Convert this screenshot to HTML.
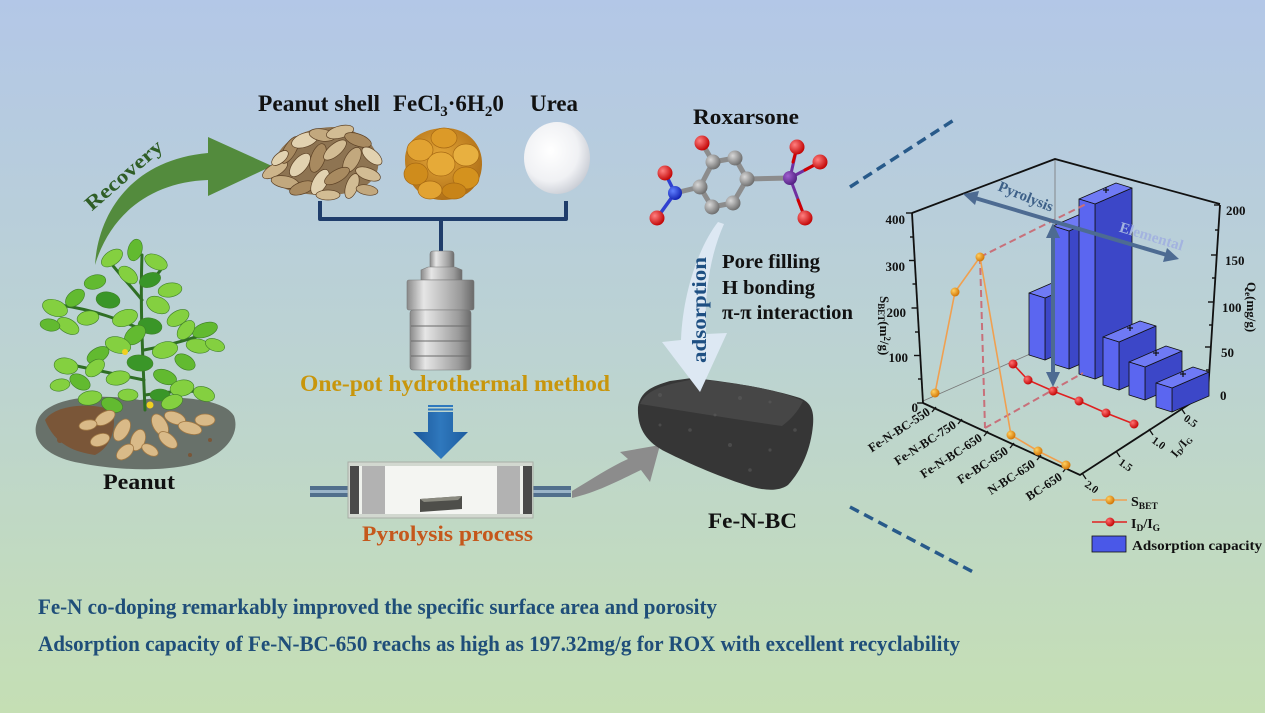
<!DOCTYPE html>
<html><head><meta charset="utf-8"><style>
html,body{margin:0;padding:0;width:1265px;height:713px;overflow:hidden;background:#bcd3d2;}
svg{display:block;}
text{font-family:"Liberation Serif","DejaVu Serif",serif;font-weight:bold;}
</style></head><body>
<svg width="1265" height="713" viewBox="0 0 1265 713" xmlns="http://www.w3.org/2000/svg">
<defs>
<linearGradient id="bg" x1="0" y1="0" x2="0" y2="1">
<stop offset="0" stop-color="#b3c7e7"/>
<stop offset="0.5" stop-color="#bcd3d2"/>
<stop offset="1" stop-color="#c5dfb4"/>
</linearGradient>
<linearGradient id="metal" x1="0" y1="0" x2="1" y2="0">
<stop offset="0" stop-color="#8a8a8a"/>
<stop offset="0.25" stop-color="#e6e6e6"/>
<stop offset="0.5" stop-color="#c4c4c4"/>
<stop offset="0.8" stop-color="#9a9a9a"/>
<stop offset="1" stop-color="#6a6a6a"/>
</linearGradient>
<linearGradient id="blueArr" x1="0" y1="0" x2="1" y2="0">
<stop offset="0" stop-color="#1b5699"/>
<stop offset="0.5" stop-color="#2f78bd"/>
<stop offset="1" stop-color="#1d5c9f"/>
</linearGradient>
<radialGradient id="gC" cx="0.35" cy="0.35" r="0.7"><stop offset="0" stop-color="#d8d8d8"/><stop offset="1" stop-color="#6a6a6a"/></radialGradient>
<radialGradient id="gO" cx="0.35" cy="0.35" r="0.7"><stop offset="0" stop-color="#ff8080"/><stop offset="1" stop-color="#c00000"/></radialGradient>
<radialGradient id="gN" cx="0.35" cy="0.35" r="0.7"><stop offset="0" stop-color="#6080ff"/><stop offset="1" stop-color="#1020b0"/></radialGradient>
<radialGradient id="gAs" cx="0.35" cy="0.35" r="0.7"><stop offset="0" stop-color="#a060d0"/><stop offset="1" stop-color="#502080"/></radialGradient>
<radialGradient id="gOr" cx="0.35" cy="0.35" r="0.7"><stop offset="0" stop-color="#ffd060"/><stop offset="1" stop-color="#d07000"/></radialGradient>
<radialGradient id="gRd" cx="0.35" cy="0.35" r="0.7"><stop offset="0" stop-color="#ff7070"/><stop offset="1" stop-color="#c00000"/></radialGradient>
<radialGradient id="gUrea" cx="0.4" cy="0.4" r="0.65"><stop offset="0" stop-color="#ffffff"/><stop offset="0.65" stop-color="#f0f1f4"/><stop offset="1" stop-color="#c8ccd4"/></radialGradient>
<radialGradient id="gFe" cx="0.45" cy="0.4" r="0.6"><stop offset="0" stop-color="#e6a838"/><stop offset="1" stop-color="#b07018"/></radialGradient>
</defs>

<rect x="0" y="0" width="1265" height="713" fill="url(#bg)"/>

<!-- ===== Recovery arrow ===== -->
<path d="M95,265 C98,215 130,160 208,153 L208,137 L272,166 L208,196 L208,180 C150,182 110,215 95,265 Z" fill="#538b3d"/>
<text transform="translate(128,180) rotate(-41)" font-size="20" fill="#2f5e26" text-anchor="middle" textLength="96" lengthAdjust="spacingAndGlyphs">Recovery</text>

<!-- ===== Plant ===== -->
<path d="M37,422 C45,396 100,393 140,400 C180,394 226,400 234,416 C241,436 222,455 200,462 C170,472 120,471 80,463 C50,458 30,442 37,422 Z" fill="#68716a"/>
<path d="M45,420 C55,405 90,402 112,410 C118,428 110,448 95,455 C75,452 55,445 45,420 Z" fill="#7a5638"/>
<g fill="#7a5638"><circle cx="60" cy="440" r="3"/><circle cx="75" cy="447" r="2.5"/><circle cx="210" cy="440" r="2"/><circle cx="190" cy="455" r="2"/></g>
<g stroke="#2f6f24" stroke-width="3" fill="none" stroke-linecap="round">
<path d="M145,410 C143,360 140,310 142,255"/>
<path d="M143,330 C120,320 95,310 60,305"/>
<path d="M144,350 C170,345 195,338 215,330"/>
<path d="M144,380 C120,375 95,370 72,365"/>
<path d="M145,395 C165,392 185,390 205,392"/>
<path d="M142,300 C130,285 120,275 110,262"/>
<path d="M143,285 C150,280 160,275 165,262"/>
</g>
<g stroke="#3f7f28" stroke-width="0.6">
<ellipse cx="112" cy="258" rx="12" ry="7" transform="rotate(-35 112 258)" fill="#84d040"/>
<ellipse cx="135" cy="250" rx="11" ry="7" transform="rotate(-75 135 250)" fill="#62ba30"/>
<ellipse cx="156" cy="262" rx="12" ry="7" transform="rotate(25 156 262)" fill="#84d040"/>
<ellipse cx="128" cy="275" rx="11" ry="7" transform="rotate(40 128 275)" fill="#84d040"/>
<ellipse cx="150" cy="280" rx="11" ry="7" transform="rotate(-20 150 280)" fill="#3a9628"/>
<ellipse cx="95" cy="282" rx="11" ry="7" transform="rotate(-15 95 282)" fill="#62ba30"/>
<ellipse cx="170" cy="290" rx="12" ry="7" transform="rotate(-10 170 290)" fill="#84d040"/>
<ellipse cx="55" cy="308" rx="13" ry="8" transform="rotate(20 55 308)" fill="#84d040"/>
<ellipse cx="75" cy="298" rx="11" ry="7" transform="rotate(-40 75 298)" fill="#62ba30"/>
<ellipse cx="68" cy="326" rx="12" ry="7" transform="rotate(30 68 326)" fill="#84d040"/>
<ellipse cx="88" cy="318" rx="11" ry="7" transform="rotate(-10 88 318)" fill="#84d040"/>
<ellipse cx="50" cy="325" rx="10" ry="6" transform="rotate(10 50 325)" fill="#62ba30"/>
<ellipse cx="108" cy="300" rx="12" ry="8" transform="rotate(10 108 300)" fill="#3a9628"/>
<ellipse cx="125" cy="318" rx="13" ry="8" transform="rotate(-20 125 318)" fill="#84d040"/>
<ellipse cx="158" cy="305" rx="12" ry="8" transform="rotate(25 158 305)" fill="#84d040"/>
<ellipse cx="178" cy="318" rx="12" ry="7" transform="rotate(-30 178 318)" fill="#84d040"/>
<ellipse cx="150" cy="326" rx="12" ry="8" transform="rotate(10 150 326)" fill="#3a9628"/>
<ellipse cx="135" cy="335" rx="12" ry="8" transform="rotate(-40 135 335)" fill="#62ba30"/>
<ellipse cx="205" cy="330" rx="13" ry="7" transform="rotate(-20 205 330)" fill="#62ba30"/>
<ellipse cx="198" cy="346" rx="12" ry="7" transform="rotate(10 198 346)" fill="#84d040"/>
<ellipse cx="186" cy="330" rx="11" ry="7" transform="rotate(-50 186 330)" fill="#84d040"/>
<ellipse cx="215" cy="345" rx="10" ry="6" transform="rotate(20 215 345)" fill="#84d040"/>
<ellipse cx="118" cy="345" rx="13" ry="8" transform="rotate(15 118 345)" fill="#84d040"/>
<ellipse cx="165" cy="350" rx="13" ry="8" transform="rotate(-15 165 350)" fill="#84d040"/>
<ellipse cx="98" cy="355" rx="12" ry="7" transform="rotate(-30 98 355)" fill="#62ba30"/>
<ellipse cx="140" cy="363" rx="13" ry="8" transform="rotate(5 140 363)" fill="#3a9628"/>
<ellipse cx="185" cy="362" rx="11" ry="7" transform="rotate(30 185 362)" fill="#62ba30"/>
<ellipse cx="66" cy="366" rx="12" ry="8" transform="rotate(10 66 366)" fill="#84d040"/>
<ellipse cx="80" cy="382" rx="11" ry="7" transform="rotate(30 80 382)" fill="#62ba30"/>
<ellipse cx="95" cy="368" rx="11" ry="7" transform="rotate(-40 95 368)" fill="#84d040"/>
<ellipse cx="118" cy="378" rx="12" ry="7" transform="rotate(-10 118 378)" fill="#84d040"/>
<ellipse cx="60" cy="385" rx="10" ry="6" transform="rotate(-10 60 385)" fill="#84d040"/>
<ellipse cx="165" cy="377" rx="12" ry="7" transform="rotate(20 165 377)" fill="#62ba30"/>
<ellipse cx="182" cy="388" rx="12" ry="8" transform="rotate(-10 182 388)" fill="#84d040"/>
<ellipse cx="204" cy="394" rx="11" ry="7" transform="rotate(20 204 394)" fill="#84d040"/>
<ellipse cx="160" cy="395" rx="10" ry="6" fill="#3a9628"/>
<ellipse cx="90" cy="398" rx="12" ry="7" transform="rotate(-10 90 398)" fill="#84d040"/>
<ellipse cx="112" cy="405" rx="11" ry="7" transform="rotate(20 112 405)" fill="#62ba30"/>
<ellipse cx="172" cy="402" rx="11" ry="7" transform="rotate(-20 172 402)" fill="#84d040"/>
<ellipse cx="128" cy="395" rx="10" ry="6" fill="#84d040"/>
</g>
<circle cx="125" cy="352" r="3" fill="#f0d020"/>
<circle cx="150" cy="405" r="3.5" fill="#f0d020"/>
<g fill="#d9ba88" stroke="#a07844" stroke-width="0.8">
<ellipse cx="105" cy="418" rx="11" ry="6" transform="rotate(-30 105 418)"/>
<ellipse cx="122" cy="430" rx="12" ry="7" transform="rotate(-60 122 430)"/>
<ellipse cx="100" cy="440" rx="10" ry="6" transform="rotate(-20 100 440)"/>
<ellipse cx="138" cy="440" rx="11" ry="7" transform="rotate(-70 138 440)"/>
<ellipse cx="160" cy="425" rx="12" ry="7" transform="rotate(60 160 425)"/>
<ellipse cx="175" cy="418" rx="11" ry="6" transform="rotate(20 175 418)"/>
<ellipse cx="190" cy="428" rx="12" ry="6" transform="rotate(15 190 428)"/>
<ellipse cx="205" cy="420" rx="10" ry="6"/>
<ellipse cx="168" cy="440" rx="11" ry="6" transform="rotate(40 168 440)"/>
<ellipse cx="125" cy="452" rx="10" ry="6" transform="rotate(-40 125 452)"/>
<ellipse cx="150" cy="450" rx="9" ry="5" transform="rotate(30 150 450)"/>
<ellipse cx="88" cy="425" rx="9" ry="5" transform="rotate(-10 88 425)"/>
</g>
<text x="103" y="489" font-size="22" fill="#111" textLength="72" lengthAdjust="spacingAndGlyphs">Peanut</text>

<!-- ===== Raw materials ===== -->
<text x="258" y="111" font-size="23" fill="#111" textLength="122" lengthAdjust="spacingAndGlyphs">Peanut shell</text>
<text x="393" y="111" font-size="23" fill="#111">FeCl<tspan font-size="15" dy="5">3</tspan><tspan dy="-5">·6H</tspan><tspan font-size="15" dy="5">2</tspan><tspan dy="-5">0</tspan></text>
<text x="530" y="111" font-size="23" fill="#111" textLength="48" lengthAdjust="spacingAndGlyphs">Urea</text>

<!-- peanut shells -->
<path d="M272,168 C278,142 302,128 332,127 C360,128 380,145 378,168 C374,188 350,196 320,195 C290,194 268,186 272,168 Z" fill="#8e7452"/>
<g stroke="#5d4226" stroke-width="0.7">
<ellipse cx="275" cy="170" rx="14" ry="6" transform="rotate(-30 275 170)" fill="#cdb48a"/>
<ellipse cx="290" cy="150" rx="15" ry="6" transform="rotate(-60 290 150)" fill="#a88a60"/>
<ellipse cx="305" cy="140" rx="14" ry="7" transform="rotate(-20 305 140)" fill="#e2d2b0"/>
<ellipse cx="322" cy="135" rx="13" ry="6" transform="rotate(10 322 135)" fill="#c2a87e"/>
<ellipse cx="340" cy="132" rx="14" ry="6" transform="rotate(-15 340 132)" fill="#d2bc94"/>
<ellipse cx="358" cy="140" rx="14" ry="6" transform="rotate(20 358 140)" fill="#a88a60"/>
<ellipse cx="372" cy="156" rx="12" ry="6" transform="rotate(40 372 156)" fill="#e2d2b0"/>
<ellipse cx="285" cy="182" rx="14" ry="6" transform="rotate(10 285 182)" fill="#c2a87e"/>
<ellipse cx="300" cy="165" rx="14" ry="7" transform="rotate(-50 300 165)" fill="#e2d2b0"/>
<ellipse cx="318" cy="158" rx="15" ry="7" transform="rotate(-70 318 158)" fill="#a88a60"/>
<ellipse cx="335" cy="150" rx="14" ry="6" transform="rotate(-40 335 150)" fill="#d2bc94"/>
<ellipse cx="352" cy="160" rx="14" ry="7" transform="rotate(-60 352 160)" fill="#c2a87e"/>
<ellipse cx="368" cy="174" rx="13" ry="6" transform="rotate(20 368 174)" fill="#d2bc94"/>
<ellipse cx="302" cy="188" rx="13" ry="6" transform="rotate(-20 302 188)" fill="#a88a60"/>
<ellipse cx="320" cy="182" rx="14" ry="7" transform="rotate(-60 320 182)" fill="#e2d2b0"/>
<ellipse cx="337" cy="176" rx="14" ry="6" transform="rotate(-30 337 176)" fill="#a88a60"/>
<ellipse cx="352" cy="186" rx="13" ry="6" transform="rotate(-70 352 186)" fill="#d2bc94"/>
<ellipse cx="367" cy="190" rx="11" ry="5" transform="rotate(10 367 190)" fill="#c2a87e"/>
<ellipse cx="328" cy="195" rx="12" ry="5" fill="#d2bc94"/>
<ellipse cx="280" cy="158" rx="10" ry="5" transform="rotate(-40 280 158)" fill="#e2d2b0"/>
</g>

<!-- FeCl3 -->
<path d="M405,160 C405,138 425,128 445,128 C468,128 483,145 482,165 C481,188 465,200 442,200 C420,200 405,182 405,160 Z" fill="url(#gFe)"/>
<g stroke="#a86a14" stroke-width="0.7">
<ellipse cx="420" cy="150" rx="13" ry="11" fill="#e2a332"/>
<ellipse cx="444" cy="138" rx="13" ry="10" fill="#dc9a28"/>
<ellipse cx="466" cy="155" rx="13" ry="11" fill="#e8b040"/>
<ellipse cx="416" cy="174" rx="12" ry="11" fill="#cf8c1c"/>
<ellipse cx="441" cy="164" rx="14" ry="12" fill="#e6aa38"/>
<ellipse cx="466" cy="178" rx="13" ry="11" fill="#d4921e"/>
<ellipse cx="430" cy="190" rx="12" ry="9" fill="#e2a332"/>
<ellipse cx="454" cy="191" rx="12" ry="8" fill="#c88418"/>
</g>

<!-- Urea -->
<ellipse cx="557" cy="158" rx="33" ry="36" fill="url(#gUrea)"/>

<!-- bracket -->
<g stroke="#1f3d6b" stroke-width="4" fill="none" stroke-linejoin="round">
<path d="M320,201 L320,219 L566,219 L566,201"/>
<path d="M441,219 L441,254"/>
</g>

<!-- autoclave -->
<rect x="430" y="251" width="24" height="18" rx="3" fill="url(#metal)" stroke="#777" stroke-width="0.6"/>
<path d="M421,270 L428,267 L455,267 L462,270 L462,280 L421,280 Z" fill="url(#metal)" stroke="#777" stroke-width="0.6"/>
<rect x="407" y="280" width="67" height="30" rx="2" fill="url(#metal)" stroke="#777" stroke-width="0.6"/>
<rect x="410" y="310" width="61" height="60" rx="3" fill="url(#metal)" stroke="#777" stroke-width="0.6"/>
<g stroke="#6a6a6a" stroke-width="1"><line x1="411" y1="326" x2="470" y2="326"/><line x1="411" y1="341" x2="470" y2="341"/><line x1="411" y1="356" x2="470" y2="356"/></g>

<text x="300" y="391" font-size="23" fill="#c8960c" textLength="310" lengthAdjust="spacingAndGlyphs">One-pot hydrothermal method</text>

<!-- blue arrow -->
<rect x="428" y="405" width="25" height="2" fill="#2f78bd"/>
<rect x="428" y="408.5" width="25" height="2" fill="#2f78bd"/>
<path d="M428,412 L453,412 L453,432 L468,432 L441,459 L413,432 L428,432 Z" fill="url(#blueArr)"/>

<!-- tube furnace -->
<rect x="310" y="486" width="38" height="11" fill="#516f8c"/>
<rect x="310" y="490" width="38" height="3" fill="#9ab4c8"/>
<rect x="533" y="486" width="38" height="11" fill="#516f8c"/>
<rect x="533" y="490" width="38" height="3" fill="#9ab4c8"/>
<rect x="348" y="462" width="185" height="56" fill="#d2d8d0" stroke="#a8aea6" stroke-width="1"/>
<rect x="350" y="466" width="181" height="48" fill="#eef1ec"/>
<rect x="350" y="466" width="9" height="48" fill="#4a4a4a"/>
<rect x="362" y="466" width="23" height="48" fill="#b2b2b2"/>
<rect x="497" y="466" width="23" height="48" fill="#b2b2b2"/>
<rect x="523" y="466" width="9" height="48" fill="#4a4a4a"/>
<rect x="385" y="466" width="112" height="48" fill="#f4f5f2"/>
<path d="M420,499 L462,496 L462,509 L420,512 Z" fill="#4e4e4a"/>
<path d="M420,499 L462,496 L458,500 L424,502 Z" fill="#8a8a80"/>

<!-- gray arrow -->
<path d="M572,491 C592,479 610,467 628,459 L620,452 L660,445 L650,482 L641,470 C620,480 598,492 572,498 Z" fill="#8c8c8c"/>

<text x="362" y="541" font-size="22" fill="#c5581c" textLength="171" lengthAdjust="spacingAndGlyphs">Pyrolysis process</text>

<!-- ===== Roxarsone ===== -->
<text x="693" y="124" font-size="22" fill="#111" textLength="106" lengthAdjust="spacingAndGlyphs">Roxarsone</text>
<g stroke-linecap="round">
<g stroke="#8c8c8c" stroke-width="5">
<line x1="713" y1="162" x2="735" y2="158"/><line x1="735" y1="158" x2="747" y2="179"/>
<line x1="747" y1="179" x2="733" y2="203"/><line x1="733" y1="203" x2="712" y2="207"/>
<line x1="712" y1="207" x2="700" y2="187"/><line x1="700" y1="187" x2="713" y2="162"/>
<line x1="713" y1="162" x2="702" y2="143"/><line x1="700" y1="187" x2="675" y2="193"/>
<line x1="747" y1="179" x2="790" y2="178"/>
</g>
<g stroke="#3040d0" stroke-width="3.5"><line x1="675" y1="193" x2="665" y2="173"/><line x1="675" y1="193" x2="657" y2="218"/></g>
<g stroke="#7030a0" stroke-width="3"><line x1="790" y1="178" x2="797" y2="147"/><line x1="790" y1="178" x2="820" y2="162"/><line x1="790" y1="178" x2="805" y2="218"/></g>
<g stroke="#d00000" stroke-width="3"><line x1="793" y1="162" x2="797" y2="147"/><line x1="805" y1="170" x2="820" y2="162"/><line x1="798" y1="200" x2="805" y2="218"/></g>
</g>
<g>
<circle cx="713" cy="162" r="7.5" fill="url(#gC)"/><circle cx="735" cy="158" r="7.5" fill="url(#gC)"/>
<circle cx="747" cy="179" r="7.5" fill="url(#gC)"/><circle cx="733" cy="203" r="7.5" fill="url(#gC)"/>
<circle cx="712" cy="207" r="7.5" fill="url(#gC)"/><circle cx="700" cy="187" r="7.5" fill="url(#gC)"/>
<circle cx="702" cy="143" r="7.5" fill="url(#gO)"/>
<circle cx="675" cy="193" r="7" fill="url(#gN)"/>
<circle cx="665" cy="173" r="7.5" fill="url(#gO)"/><circle cx="657" cy="218" r="7.5" fill="url(#gO)"/>
<circle cx="790" cy="178" r="7" fill="url(#gAs)"/>
<circle cx="797" cy="147" r="7.5" fill="url(#gO)"/><circle cx="820" cy="162" r="7.5" fill="url(#gO)"/><circle cx="805" cy="218" r="7.5" fill="url(#gO)"/>
</g>

<!-- biochar -->
<path d="M638,407 C640,392 652,386 670,381 L692,378 C740,383 775,390 800,398 C812,403 814,412 813,425 C811,448 802,470 788,485 C778,492 764,490 752,487 C722,478 690,464 666,452 C646,442 637,428 638,407 Z" fill="#363636"/>
<path d="M640,404 C645,392 660,386 680,382 L694,379 C740,383 780,390 803,401 C798,412 790,420 782,426 C740,420 690,412 640,404 Z" fill="#464646"/>
<g fill="#5a5a5a" opacity="0.6">
<circle cx="660" cy="395" r="2"/><circle cx="700" cy="390" r="1.6"/><circle cx="740" cy="398" r="2"/><circle cx="770" cy="402" r="1.5"/>
<circle cx="690" cy="430" r="1.8"/><circle cx="730" cy="445" r="2"/><circle cx="770" cy="450" r="1.6"/><circle cx="795" cy="430" r="1.8"/>
<circle cx="660" cy="425" r="1.5"/><circle cx="750" cy="470" r="1.8"/><circle cx="715" cy="415" r="1.5"/>
</g>

<!-- adsorption arrow -->
<path d="M718,222 C700,245 683,290 681,340 L662,342 L700,392 L727,333 L706,334 C704,295 710,255 724,224 Z" fill="#dde8f3"/>
<text transform="translate(706,310) rotate(-90)" font-size="20" fill="#1e4f82" text-anchor="middle" textLength="106" lengthAdjust="spacingAndGlyphs">adsorption</text>

<text x="722" y="268" font-size="20" fill="#111" textLength="98" lengthAdjust="spacingAndGlyphs">Pore filling</text>
<text x="722" y="294" font-size="20" fill="#111" textLength="93" lengthAdjust="spacingAndGlyphs">H bonding</text>
<text x="722" y="319" font-size="20" fill="#111" textLength="131" lengthAdjust="spacingAndGlyphs">π-π interaction</text>

<text x="708" y="528" font-size="22" fill="#111" textLength="89" lengthAdjust="spacingAndGlyphs">Fe-N-BC</text>

<!-- dashed navy lines -->
<line x1="850" y1="187" x2="957" y2="118" stroke="#285a8a" stroke-width="3.5" stroke-dasharray="10 6"/>
<line x1="850" y1="507" x2="975" y2="573" stroke="#285a8a" stroke-width="3.5" stroke-dasharray="10 6"/>

<!-- ===== Chart ===== -->
<g stroke="#777" stroke-width="0.8" fill="none">
<line x1="1055" y1="159" x2="1055" y2="345"/>
<line x1="923" y1="401" x2="1055" y2="343"/>
</g>
<g stroke="#111" stroke-width="1.8" fill="none">
<polyline points="912,213 1055,159 1220,204"/>
<line x1="912" y1="213" x2="923" y2="403"/>
<line x1="1220" y1="205" x2="1208" y2="392"/>
<polyline points="923,403 1080,475 1208,392"/>
</g>
<g stroke="#111" stroke-width="1.4">
<line x1="906" y1="213" x2="912" y2="213"/><line x1="909" y1="260.5" x2="915" y2="260.5"/>
<line x1="911.5" y1="308" x2="917.5" y2="308"/><line x1="914" y1="355.5" x2="920" y2="355.5"/>
<line x1="917" y1="403" x2="923" y2="403"/>
<line x1="910" y1="237" x2="913.5" y2="237"/><line x1="912.5" y1="284" x2="916" y2="284"/>
<line x1="915" y1="332" x2="918.5" y2="332"/><line x1="918" y1="379" x2="921.5" y2="379"/>
</g>
<g font-size="13" fill="#111" text-anchor="end">
<text x="905" y="224">400</text><text x="905" y="271">300</text><text x="906" y="317">200</text><text x="908" y="362">100</text><text x="918" y="412">0</text>
</g>
<text transform="translate(880,296) rotate(90)" font-size="13" fill="#111">S<tspan font-size="9" dy="2">BET</tspan><tspan dy="-2">(m</tspan><tspan font-size="9" dy="-4">2</tspan><tspan dy="4">/g)</tspan></text>
<g stroke="#111" stroke-width="1.4">
<line x1="1214" y1="205" x2="1220" y2="205"/><line x1="1211" y1="255" x2="1217" y2="255"/>
<line x1="1208" y1="302" x2="1214" y2="302"/><line x1="1205" y1="347" x2="1211" y2="347"/>
<line x1="1202" y1="392" x2="1208" y2="392"/>
<line x1="1215" y1="230" x2="1218.5" y2="230"/><line x1="1212" y1="278" x2="1215.5" y2="278"/>
<line x1="1209" y1="325" x2="1212.5" y2="325"/><line x1="1206" y1="370" x2="1209.5" y2="370"/>
</g>
<g font-size="13" fill="#111">
<text x="1226" y="215">200</text><text x="1225" y="265">150</text><text x="1222" y="312">100</text><text x="1221" y="357">50</text><text x="1220" y="400">0</text>
</g>
<text transform="translate(1247,282) rotate(90)" font-size="13" fill="#111">Q<tspan font-size="9" dy="2">e</tspan><tspan dy="-2">(mg/g)</tspan></text>

<g stroke="#111" stroke-width="1.3">
<line x1="932" y1="412" x2="936" y2="407"/><line x1="958" y1="424" x2="962" y2="419"/>
<line x1="984" y1="436" x2="988" y2="431"/><line x1="1010" y1="448" x2="1014" y2="443"/>
<line x1="1037" y1="460" x2="1041" y2="455"/><line x1="1063" y1="472" x2="1067" y2="467"/>
<line x1="1086" y1="479" x2="1082" y2="473"/><line x1="1120" y1="457" x2="1116" y2="451"/>
<line x1="1153" y1="435" x2="1149" y2="429"/><line x1="1185" y1="414" x2="1181" y2="408"/>
</g>
<g font-size="12.5" fill="#111" text-anchor="end">
<text transform="translate(931,414) rotate(-33)">Fe-N-BC-550</text>
<text transform="translate(957,427) rotate(-33)">Fe-N-BC-750</text>
<text transform="translate(983,440) rotate(-33)">Fe-N-BC-650</text>
<text transform="translate(1009,453) rotate(-33)">Fe-BC-650</text>
<text transform="translate(1036,466) rotate(-33)">N-BC-650</text>
<text transform="translate(1063,479) rotate(-33)">BC-650</text>
</g>
<g font-size="11" fill="#111">
<text transform="translate(1084,486) rotate(35)">2.0</text>
<text transform="translate(1118,464) rotate(35)">1.5</text>
<text transform="translate(1151,442) rotate(35)">1.0</text>
<text transform="translate(1183,420) rotate(35)">0.5</text>
</g>
<text transform="translate(1176,458) rotate(-50)" font-size="12" fill="#111">I<tspan font-size="8" dy="2">D</tspan><tspan dy="-2">/I</tspan><tspan font-size="8" dy="2">G</tspan></text>

<!-- bars -->
<g stroke="#111" stroke-width="0.8" stroke-linejoin="round">
<polygon points="1045,298 1082,282 1082,344 1045,360" fill="#3c47c8"/>
<polygon points="1029,293 1045,298 1082,282 1066,277" fill="#6f7af5"/>
<polygon points="1029,293 1045,298 1045,360 1029,355" fill="#5b66f0"/>
<polygon points="1069,231 1106,215 1106,353 1069,369" fill="#3c47c8"/>
<polygon points="1053,226 1069,231 1106,215 1090,210" fill="#6f7af5"/>
<polygon points="1053,226 1069,231 1069,369 1053,364" fill="#5b66f0"/>
<polygon points="1095,204 1132,188 1132,363 1095,379" fill="#3c47c8"/>
<polygon points="1079,199 1095,204 1132,188 1116,183" fill="#6f7af5"/>
<polygon points="1079,199 1095,204 1095,379 1079,374" fill="#5b66f0"/>
<polygon points="1119,342 1156,326 1156,374 1119,390" fill="#3c47c8"/>
<polygon points="1103,337 1119,342 1156,326 1140,321" fill="#6f7af5"/>
<polygon points="1103,337 1119,342 1119,390 1103,385" fill="#5b66f0"/>
<polygon points="1145,367 1182,351 1182,384 1145,400" fill="#3c47c8"/>
<polygon points="1129,362 1145,367 1182,351 1166,346" fill="#6f7af5"/>
<polygon points="1129,362 1145,367 1145,400 1129,395" fill="#5b66f0"/>
<polygon points="1172,388 1209,372 1209,396 1172,412" fill="#3c47c8"/>
<polygon points="1156,383 1172,388 1209,372 1193,367" fill="#6f7af5"/>
<polygon points="1156,383 1172,388 1172,412 1156,407" fill="#5b66f0"/>
</g>
<g stroke="#111" stroke-width="1.2">
<line x1="1103" y1="190" x2="1109" y2="190"/><line x1="1106" y1="187" x2="1106" y2="193"/>
<line x1="1127" y1="328" x2="1133" y2="328"/><line x1="1130" y1="325" x2="1130" y2="331"/>
<line x1="1153" y1="353" x2="1159" y2="353"/><line x1="1156" y1="350" x2="1156" y2="356"/>
<line x1="1180" y1="374" x2="1186" y2="374"/><line x1="1183" y1="371" x2="1183" y2="377"/>
</g>

<g stroke="#c8707a" stroke-width="2" stroke-dasharray="7 4" fill="none">
<line x1="980" y1="257" x2="1088" y2="203"/>
<line x1="980" y1="257" x2="985" y2="428"/>
<line x1="985" y1="428" x2="1083" y2="373"/>
</g>

<polyline points="935,393 955,292 980,257 1011,435 1038,451 1066,465" fill="none" stroke="#f0a050" stroke-width="1.6"/>
<g fill="url(#gOr)">
<circle cx="935" cy="393" r="4.5"/><circle cx="955" cy="292" r="4.5"/><circle cx="980" cy="257" r="4.5"/>
<circle cx="1011" cy="435" r="4.5"/><circle cx="1038" cy="451" r="4.5"/><circle cx="1066" cy="465" r="4.5"/>
</g>
<polyline points="1013,364 1028,380 1053,391 1079,401 1106,413 1134,424" fill="none" stroke="#e02020" stroke-width="1.6"/>
<g fill="url(#gRd)">
<circle cx="1013" cy="364" r="4.5"/><circle cx="1028" cy="380" r="4.5"/><circle cx="1053" cy="391" r="4.5"/>
<circle cx="1079" cy="401" r="4.5"/><circle cx="1106" cy="413" r="4.5"/><circle cx="1134" cy="424" r="4.5"/>
</g>

<g stroke="#4d6b92" stroke-width="4" fill="none">
<line x1="975" y1="198" x2="1167" y2="255"/>
<line x1="1053" y1="236" x2="1053" y2="374"/>
</g>
<g fill="#4d6b92">
<polygon points="963,194 979,191 975,205"/>
<polygon points="1179,259 1163,262 1167,248"/>
<polygon points="1053,223 1046,238 1060,238"/>
<polygon points="1053,387 1046,372 1060,372"/>
</g>
<text transform="translate(1024,201) rotate(22)" font-size="15" fill="#3d6088" text-anchor="middle" textLength="58" lengthAdjust="spacingAndGlyphs">Pyrolysis</text>
<text transform="translate(1150,241) rotate(17)" font-size="15" fill="#a3b3df" text-anchor="middle" textLength="66" lengthAdjust="spacingAndGlyphs">Elemental</text>

<!-- legend -->
<line x1="1092" y1="500" x2="1127" y2="500" stroke="#f0a050" stroke-width="1.6"/>
<circle cx="1110" cy="500" r="4.5" fill="url(#gOr)"/>
<text x="1131" y="506" font-size="14" fill="#111">S<tspan font-size="9.5" dy="3">BET</tspan></text>
<line x1="1092" y1="522" x2="1127" y2="522" stroke="#e02020" stroke-width="1.6"/>
<circle cx="1110" cy="522" r="4.5" fill="url(#gRd)"/>
<text x="1131" y="528" font-size="14" fill="#111">I<tspan font-size="9.5" dy="3">D</tspan><tspan dy="-3">/I</tspan><tspan font-size="9.5" dy="3">G</tspan></text>
<rect x="1092" y="536" width="34" height="16" fill="#4a58e8" stroke="#111" stroke-width="0.8"/>
<text x="1132" y="550" font-size="14" fill="#111" textLength="130" lengthAdjust="spacingAndGlyphs">Adsorption capacity</text>

<!-- ===== Bottom text ===== -->
<text x="38" y="614" font-size="22" fill="#1f4e79" textLength="679" lengthAdjust="spacingAndGlyphs">Fe-N co-doping remarkably improved the specific surface area and porosity</text>
<text x="38" y="651" font-size="22" fill="#1f4e79" textLength="922" lengthAdjust="spacingAndGlyphs">Adsorption capacity of Fe-N-BC-650 reachs as high as 197.32mg/g for ROX with excellent recyclability</text>
</svg>
</body></html>
